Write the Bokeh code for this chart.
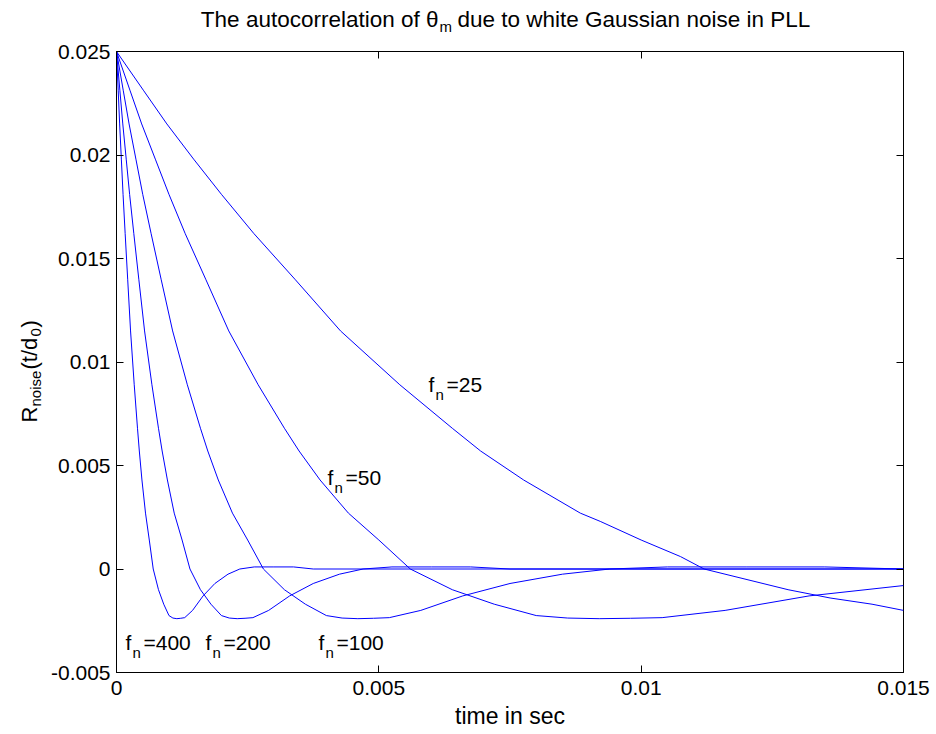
import math
from bokeh.plotting import figure
from bokeh.models import Range1d, FixedTicker, LinearAxis, Label
from bokeh.layouts import column, row
from bokeh.embed import file_html
from bokeh.resources import INLINE

# ---- data ----
t_fn25 = [0, 0.00052, 0.00096, 0.00147, 0.002, 0.00262, 0.0034, 0.00427, 0.0054, 0.0064,
          0.00694, 0.00776, 0.00884, 0.00922, 0.01, 0.01075, 0.0112, 0.0128, 0.0136,
          0.0144, 0.015]
r_fn25 = [0.0250, 0.0231, 0.0215, 0.0198, 0.0181, 0.0162, 0.0140, 0.0115, 0.0089, 0.0068,
          0.0057, 0.0043, 0.0027, 0.0023, 0.0014, 0.0006, 0.0000, -0.0010, -0.0014,
          -0.0017, -0.0020]

t_fn50 = [0, 0.00026, 0.00048, 0.00074, 0.001, 0.00131, 0.0017, 0.00214, 0.0027, 0.0032,
          0.00348, 0.00388, 0.00442, 0.005, 0.0056, 0.0064, 0.0072, 0.008, 0.0086, 0.0092,
          0.0098, 0.0104, 0.0116, 0.0132, 0.015]
r_fn50 = [0.0250, 0.0231, 0.0215, 0.0198, 0.0181, 0.0162, 0.0140, 0.0115, 0.0089, 0.0068,
          0.0057, 0.0043, 0.0027, 0.0014, 0.0000, -0.0010, -0.0017, -0.00225, -0.00237,
          -0.0024, -0.00238, -0.00235, -0.0020, -0.0013, -0.0008]

t_fn100 = [0, 0.00013, 0.00024, 0.00037, 0.0005, 0.00066, 0.00085, 0.00107, 0.00135, 0.0016,
           0.00174, 0.00194, 0.00221, 0.0025, 0.0028, 0.0032, 0.0036, 0.004, 0.0043, 0.0046,
           0.0049, 0.0052, 0.0058, 0.0066, 0.0075, 0.0085, 0.0094, 0.0105, 0.012, 0.0135,
           0.015]
r_fn100 = [0.0250, 0.0231, 0.0215, 0.0198, 0.0181, 0.0162, 0.0140, 0.0115, 0.0089, 0.0068,
           0.0057, 0.0043, 0.0027, 0.0014, 0.0000, -0.0010, -0.0017, -0.00225, -0.00237,
           -0.0024, -0.00238, -0.00235, -0.0020, -0.0013, -0.0007, -0.00025, 0.0000, 0.0001,
           0.0001, 0.0001, 0.0000]

t_fn200 = [0, 0.000065, 0.00012, 0.000185, 0.00025, 0.00033, 0.000425, 0.000535, 0.000675,
           0.0008, 0.00087, 0.00097, 0.0011, 0.00125, 0.0014, 0.0016, 0.0018, 0.002, 0.00215,
           0.0023, 0.00245, 0.0026, 0.0029, 0.0033, 0.00375, 0.00425, 0.0047, 0.00525, 0.006,
           0.00675, 0.0075, 0.015]
r_fn200 = [0.0250, 0.0231, 0.0215, 0.0198, 0.0181, 0.0162, 0.0140, 0.0115, 0.0089, 0.0068,
           0.0057, 0.0043, 0.0027, 0.0014, 0.0000, -0.0010, -0.0017, -0.00225, -0.00237,
           -0.0024, -0.00238, -0.00235, -0.0020, -0.0013, -0.0007, -0.00025, 0.0000, 0.0001,
           0.0001, 0.0001, 0.0000, 0.0000]

t_fn400 = [0, 0.0000325, 0.00006, 0.0000925, 0.000125, 0.000165, 0.000213, 0.000268, 0.000338,
           0.0004, 0.000435, 0.000485, 0.000553, 0.000625, 0.0007, 0.0008, 0.0009, 0.001,
           0.001075, 0.00115, 0.001225, 0.0013, 0.00145, 0.00165, 0.001875, 0.002125, 0.00235,
           0.002625, 0.003, 0.003375, 0.00375, 0.015]
r_fn400 = [0.0250, 0.0231, 0.0215, 0.0198, 0.0181, 0.0162, 0.0140, 0.0115, 0.0089, 0.0068,
           0.0057, 0.0043, 0.0027, 0.0014, 0.0000, -0.0010, -0.0017, -0.00225, -0.00237,
           -0.0024, -0.00238, -0.00235, -0.0020, -0.0013, -0.0007, -0.00025, 0.0000, 0.0001,
           0.0001, 0.0001, 0.0000, 0.0000]

x_ticks = [0, 0.005, 0.01, 0.015]
x_tick_labels = ["0", "0.005", "0.01", "0.015"]
y_ticks = [-0.005, 0, 0.005, 0.01, 0.015, 0.02, 0.025]
y_tick_labels = ["-0.005", "0", "0.005", "0.01", "0.015", "0.02", "0.025"]

curve_labels = ["25", "50", "100", "200", "400"]

# ---- layout (page pixels) ----
W, H = 936, 734
TOP_H = 34          # strip holding the title
LEFT_W = 44         # strip holding the y label
FL, FR, FT, FB = 116, 903, 51, 672   # frame edges on the page
X0, X1, Y0, Y1 = 0.0, 0.015, -0.005, 0.025
FONT = "Liberation Sans"
BLUE = "#0000ff"

y_range = Range1d(Y0, Y1)

p = figure(width=W - LEFT_W, height=H - TOP_H, output_backend="svg", toolbar_location=None,
           title=None, x_range=Range1d(X0, X1), y_range=y_range,
           min_border_left=FL - LEFT_W, min_border_right=W - FR,
           min_border_top=FT - TOP_H, min_border_bottom=H - FB)
p.background_fill_color = "white"
p.border_fill_color = "white"
p.outline_line_color = "black"
p.outline_line_width = 1
p.xgrid.visible = False
p.ygrid.visible = False

for ax in (p.xaxis[0], p.yaxis[0]):
    ax.major_tick_in = 7
    ax.major_tick_out = 0
    ax.minor_tick_line_color = None
    ax.axis_line_color = "black"
    ax.major_tick_line_color = "black"
    ax.major_label_text_font = FONT
    ax.major_label_text_font_size = "21px"
    ax.major_label_text_color = "black"

p.xaxis.ticker = FixedTicker(ticks=x_ticks)
p.xaxis.major_label_overrides = dict(zip(x_ticks, x_tick_labels))
p.yaxis.ticker = FixedTicker(ticks=y_ticks)
p.yaxis.major_label_overrides = dict(zip(y_ticks, y_tick_labels))
p.xaxis.major_label_standoff = 8
p.yaxis.major_label_standoff = 6
p.xaxis.axis_label = "time in sec"
p.xaxis.axis_label_text_font = FONT
p.xaxis.axis_label_text_font_size = "23px"
p.xaxis.axis_label_text_font_style = "normal"
p.xaxis.axis_label_text_color = "black"
p.xaxis.axis_label_standoff = 5

# box ticks on top and right (no labels)
top_ax = LinearAxis(ticker=FixedTicker(ticks=x_ticks), major_tick_in=7, major_tick_out=0,
                    minor_tick_line_color=None, major_label_text_font_size="1px",
                    major_label_text_color=None, major_label_standoff=0,
                    axis_line_color=None, major_tick_line_color="black")
right_ax = LinearAxis(ticker=FixedTicker(ticks=y_ticks), major_tick_in=7, major_tick_out=0,
                      minor_tick_line_color=None, major_label_text_font_size="1px",
                      major_label_text_color=None, major_label_standoff=0,
                      axis_line_color=None, major_tick_line_color="black")
p.add_layout(top_ax, "above")
p.add_layout(right_ax, "right")

# ---- curves ----
for tt, rr in [(t_fn25, r_fn25), (t_fn50, r_fn50), (t_fn100, r_fn100),
               (t_fn200, r_fn200), (t_fn400, r_fn400)]:
    p.line(tt, rr, line_color=BLUE, line_width=1)


def lab(target, text, x, y, size=21, align="left", angle=0.0):
    target.add_layout(Label(x=x, y=y, text=text, text_font=FONT,
                            text_font_size=f"{size}px", text_align=align,
                            text_baseline="alphabetic", angle=angle, text_color="black"))


def dx(px):
    return X0 + (px - FL) / (FR - FL) * (X1 - X0)


def dy(py):
    return Y1 - (py - FT) / (FB - FT) * (Y1 - Y0)


# curve labels  f_n=...
label_pos = {"25": (428, 384), "50": (327, 477), "100": (318, 642),
             "200": (205, 642), "400": (125, 642)}
for name in curve_labels:
    px, py = label_pos[name]
    lab(p, "f", dx(px), dy(py))
    lab(p, "n", dx(px + 7), dy(py + 10), size=15)
    lab(p, "=" + name, dx(px + 18), dy(py))


def strip(w, h, yr, top=0, bottom=0):
    f = figure(width=w, height=h, output_backend="svg", toolbar_location=None, title=None,
               x_range=Range1d(0, w), y_range=yr,
               x_axis_type=None, y_axis_type=None,
               min_border=0, min_border_left=0, min_border_right=0,
               min_border_top=top, min_border_bottom=bottom)
    f.outline_line_color = None
    f.xgrid.visible = False
    f.ygrid.visible = False
    f.background_fill_color = "white"
    f.border_fill_color = "white"
    return f


# title strip: x in page pixels, y = TOP_H - page y
t_fig = strip(W, TOP_H, Range1d(0, TOP_H))
lab(t_fig, "The autocorrelation of \u03b8", 438, TOP_H - 19, size=22.5, align="right")
lab(t_fig, "m", 439, TOP_H - 26, size=15)
lab(t_fig, "due to white Gaussian noise in PLL", 457, TOP_H - 19, size=22.5)

# y-label strip: same vertical frame as the plot, shares its y range
y_fig = strip(LEFT_W, H - TOP_H, y_range, top=FT - TOP_H, bottom=H - FB)
rot = math.pi / 2
lab(y_fig, "R", 29, dy(422), size=22, angle=rot)
lab(y_fig, "noise", 35, dy(406), size=15, angle=rot)
lab(y_fig, "(t/d", 29, dy(369), size=22, angle=rot)
lab(y_fig, "0", 35, dy(336), size=15, angle=rot)
lab(y_fig, ")", 29, dy(327), size=22, angle=rot)

layout = column(t_fig, row(y_fig, p, spacing=0), spacing=0)
open("out.html", "w").write(file_html(layout, INLINE))
